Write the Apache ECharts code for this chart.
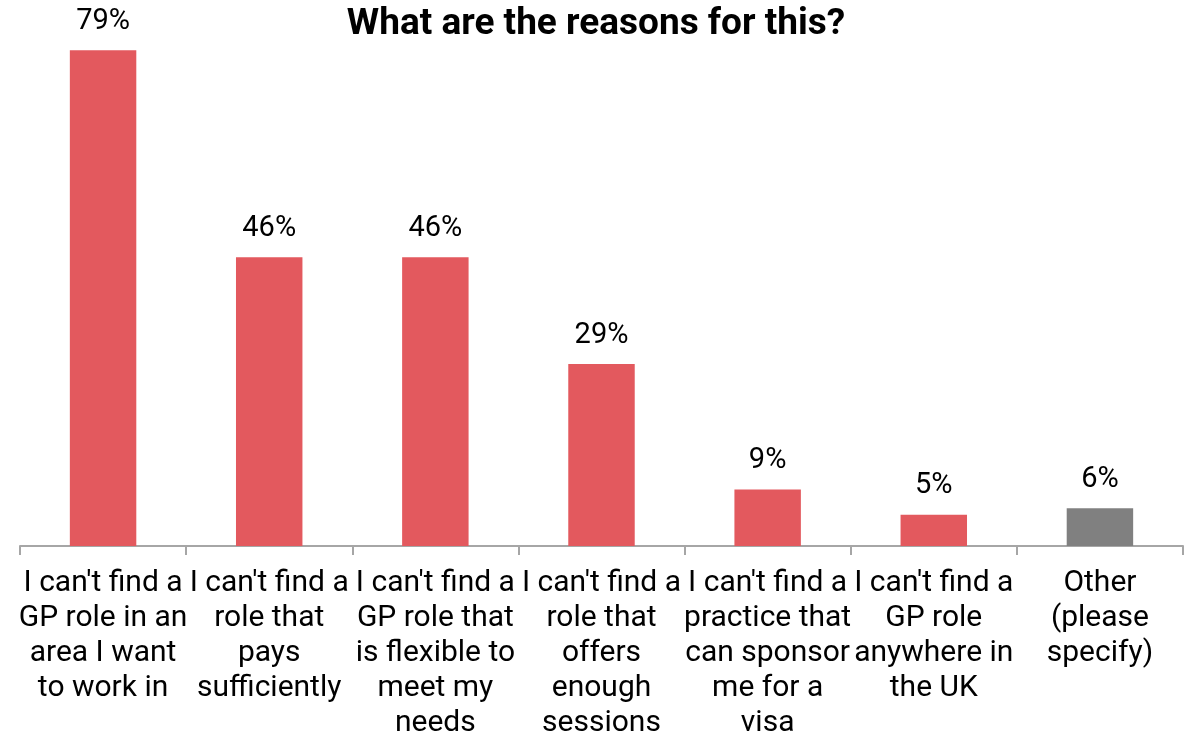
<!DOCTYPE html>
<html>
<head>
<meta charset="utf-8">
<script src="https://cdn.jsdelivr.net/npm/echarts@6/dist/echarts.min.js"></script>
<style>
  html, body { margin: 0; padding: 0; background: #fff; }
  #chart { width: 1192px; height: 741px; }
</style>
</head>
<body>
<div id="chart"></div>
<script>
const categories = [
  "I can't find a\nGP role in an\narea I want\nto work in",
  "I can't find a\nrole that\npays\nsufficiently",
  "I can't find a\nGP role that\nis flexible to\nmeet my\nneeds",
  "I can't find a\nrole that\noffers\nenough\nsessions",
  "I can't find a\npractice that\ncan sponsor\nme for a\nvisa",
  "I can't find a\nGP role\nanywhere in\nthe UK",
  "Other\n(please\nspecify)"
]
const values = [79, 46, 46, 29, 9, 5, 6]
const isOther = [false, false, false, false, false, false, true]

const myChart = echarts.init(document.getElementById('chart'))

const option = {
  animation: false,
  textStyle: { fontFamily: 'Roboto' },
  title: {
    text: 'What are the reasons for this?',
    left: 'center',
    top: 1,
    textStyle: { fontSize: 37, fontWeight: 'bold', color: '#000', fontFamily: 'Roboto' }
  },
  grid: { left: 20, right: 9, top: 44, bottom: 190, containLabel: false },
  xAxis: {
    type: 'category',
    data: categories,
    axisLine: { lineStyle: { color: '#a6a6a6', width: 2 } },
    axisTick: { show: true, length: 9, alignWithLabel: false, lineStyle: { color: '#a6a6a6', width: 2 } },
    axisLabel: {
      interval: 0,
      margin: 20,
      fontSize: 30,
      lineHeight: 35,
      color: '#000',
      align: 'center'
    }
  },
  yAxis: {
    type: 'value',
    min: 0,
    max: 80,
    show: false,
    splitLine: { show: false }
  },
  series: [{
    type: 'bar',
    barCategoryGap: '60%',
    data: values.map((v, i) => ({
      value: v,
      itemStyle: { color: isOther[i] ? '#808080' : '#e3595e' }
    })),
    label: {
      show: true,
      position: 'top',
      distance: 14,
      fontSize: 29,
      color: '#000',
      formatter: p => p.value + '%'
    }
  }]
}

myChart.setOption(option)
window.addEventListener('resize', () => myChart.resize())
</script>
</body>
</html>
